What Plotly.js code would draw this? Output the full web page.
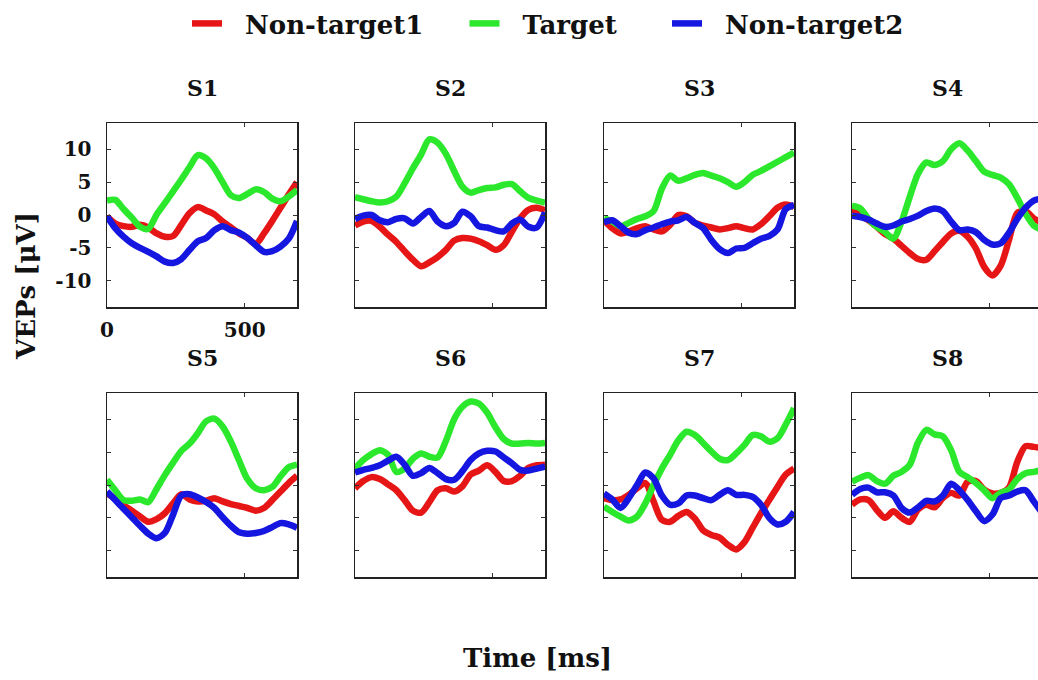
<!DOCTYPE html>
<html><head><meta charset="utf-8">
<script src="https://cdn.plot.ly/plotly-3.0.1.min.js"></script>
<style>html,body{margin:0;padding:0;overflow:hidden;background:#fff;width:1038px;height:680px}#chart{width:1042px;height:680px}</style>
</head><body><div id="chart"></div><script>
const timeMs = [0,30,60,90,120,150,180,210,240,270,300,330,360,390,420,450,480,510,540,570,600,630,660,690];
const panelNames = ['S1','S2','S3','S4','S5','S6','S7','S8'];
const seriesNames = ['Non-target1','Target','Non-target2'];
const xTickVals = [0,500];
const xTickText = ['0','500'];
const yTickVals = [-10,-5,0,5,10];
const yTickText = ['-10','-5','0','5','10'];

const S1_nonTarget1 = [-0.2,-1.3,-1.7,-1.8,-1.5,-1.9,-2.8,-3.3,-3.2,-1.5,0.3,1.2,0.7,0.1,-1.0,-1.9,-2.8,-3.5,-4.4,-2.8,-0.9,1.1,3.1,5.0];
const S1_target     = [2.2,2.3,0.9,-0.4,-1.8,-2.1,0.05,1.8,3.6,5.4,7.3,9.1,8.6,7.1,5.0,3.0,2.6,3.2,3.9,3.5,2.5,2.1,2.8,3.8];
const S1_nonTarget2 = [-0.2,-2.0,-3.3,-4.3,-5.0,-5.6,-6.3,-7.1,-7.3,-6.7,-5.3,-4.0,-3.5,-2.3,-1.7,-2.3,-2.7,-3.5,-4.6,-5.6,-5.5,-4.8,-3.6,-0.9];

const S2_nonTarget1 = [-1.6,-1.0,-0.9,-1.8,-3.0,-4.1,-5.5,-6.8,-7.8,-7.2,-6.4,-5.3,-3.9,-3.5,-3.6,-4.0,-4.6,-5.3,-4.6,-2.5,-0.5,0.8,1.1,0.7];
const S2_target     = [2.7,2.4,2.1,1.9,2.1,2.8,4.8,7.1,9.2,11.5,11.0,9.3,6.7,4.3,3.4,3.8,4.1,4.2,4.6,4.7,3.6,2.6,2.2,1.9];
const S2_nonTarget2 = [-0.6,-0.1,0.0,-0.8,-1.1,-0.6,-0.5,-1.3,-0.3,0.6,-1.0,-1.7,-1.2,0.5,-0.2,-1.7,-1.9,-2.3,-2.5,-1.3,-0.7,-1.8,-1.9,0.4];

const S3_nonTarget1 = [-0.8,-2.0,-2.8,-2.5,-2.0,-1.7,-2.2,-2.5,-1.5,0.0,-0.2,-1.2,-1.6,-1.9,-2.2,-2.0,-1.7,-2.0,-2.2,-1.4,-0.2,1.1,1.6,1.2];
const S3_target     = [-0.5,-1.0,-1.7,-1.2,-0.6,-0.2,0.6,4.0,6.0,5.2,5.6,6.1,6.4,6.0,5.6,5.0,4.3,5.0,6.1,6.7,7.4,8.1,8.8,9.5];
const S3_nonTarget2 = [-1.1,-0.8,-1.7,-2.7,-2.9,-2.3,-1.9,-1.4,-1.0,-0.8,-0.3,-1.2,-2.0,-3.8,-5.2,-5.8,-5.1,-5.0,-4.3,-3.6,-3.2,-2.2,0.9,1.5];

const S4_nonTarget1 = [1.0,0.0,-0.8,-1.8,-2.9,-3.6,-4.7,-5.8,-6.7,-6.8,-5.5,-4.1,-2.8,-2.4,-3.3,-5.1,-7.9,-9.2,-7.7,-3.8,0.3,0.6,-0.5,-1.2];
const S4_target     = [1.4,1.0,-0.6,-1.8,-2.6,-3.6,-1.0,2.8,6.3,8.0,7.6,8.2,10.0,10.9,9.8,8.2,6.6,6.1,5.7,4.7,2.6,0.2,-1.6,-2.3];
const S4_nonTarget2 = [-0.1,-0.3,-0.7,-1.3,-1.8,-1.6,-1.0,-0.6,-0.1,0.6,1.0,0.6,-1.0,-2.3,-2.2,-2.6,-3.8,-4.5,-4.3,-2.7,-0.6,1.1,2.2,2.5];

const S5_nonTarget1 = [-1.3,-2.1,-3.1,-3.9,-4.8,-5.6,-5.2,-4.3,-2.8,-1.4,-2.2,-2.5,-2.4,-2.0,-2.5,-2.9,-3.2,-3.5,-3.9,-3.5,-2.3,-1.0,0.3,1.4];
const S5_target     = [0.8,-0.8,-2.3,-2.4,-2.2,-2.6,-0.6,1.5,3.4,5.2,6.3,7.9,9.7,10.1,8.9,6.6,3.7,0.9,-0.5,-0.8,-0.3,1.3,2.7,3.1];
const S5_nonTarget2 = [-1.0,-2.3,-3.6,-4.9,-6.2,-7.4,-8.1,-7.3,-4.5,-1.6,-1.4,-1.9,-2.6,-3.5,-4.9,-6.2,-7.2,-7.4,-7.3,-7.0,-6.4,-5.8,-6.0,-6.5];

const S6_nonTarget1 = [-0.5,0.6,1.2,0.9,0.1,-0.8,-2.3,-3.9,-4.2,-2.6,-0.8,-0.5,-1.0,-0.2,1.6,2.2,3.0,2.0,0.6,0.6,1.4,2.6,3.0,3.1];
const S6_target     = [2.5,3.8,4.7,5.3,4.6,2.0,2.5,4.0,4.8,4.3,4.2,6.7,10.0,11.9,12.7,12.4,11.0,8.8,7.0,6.3,6.3,6.4,6.3,6.4];
const S6_nonTarget2 = [1.9,2.3,2.6,3.0,3.7,4.3,3.1,1.4,1.8,2.6,1.8,0.9,0.8,2.1,3.8,4.8,5.2,5.1,4.2,3.3,2.3,2.2,2.5,2.8];

const S7_nonTarget1 = [-2.0,-2.3,-2.2,-1.5,-0.5,0.3,-2.5,-5.3,-5.6,-4.7,-4.1,-5.1,-6.9,-7.6,-8.0,-9.1,-9.8,-8.7,-6.5,-4.3,-2.3,-0.3,1.6,2.5];
const S7_target     = [-3.3,-4.1,-4.8,-5.4,-4.8,-2.8,0.0,2.5,4.6,6.8,8.1,7.6,6.4,5.1,4.0,3.8,4.8,6.1,7.6,7.4,6.6,7.1,9.2,11.7];
const S7_nonTarget2 = [-1.3,-2.2,-3.5,-2.0,0.0,1.9,1.0,-1.6,-3.0,-2.8,-1.6,-1.6,-2.0,-2.3,-1.5,-0.8,-1.5,-1.5,-1.8,-3.0,-5.0,-6.0,-5.6,-4.1];

const S8_nonTarget1 = [-3.0,-2.2,-2.3,-3.8,-5.0,-4.0,-5.0,-5.6,-3.7,-3.0,-3.4,-2.0,-1.2,-1.6,0.5,0.6,-0.7,-1.3,-1.2,-0.4,3.5,5.9,5.8,5.6];
const S8_target     = [0.5,1.1,1.5,0.6,0.2,1.4,2.0,3.1,6.5,8.4,7.7,7.4,5.3,2.0,1.2,0.3,-0.8,-2.0,-1.2,-0.7,0.9,1.8,2.0,2.3];
const S8_nonTarget2 = [-1.5,-0.6,-0.4,-1.1,-1.1,-1.6,-3.5,-4.2,-3.4,-2.4,-2.5,-1.6,0.2,-0.8,-2.3,-4.0,-5.5,-4.5,-2.0,-1.6,-1.0,-0.8,-2.5,-4.2];

const panelData = [
  [S1_nonTarget1,S1_target,S1_nonTarget2],
  [S2_nonTarget1,S2_target,S2_nonTarget2],
  [S3_nonTarget1,S3_target,S3_nonTarget2],
  [S4_nonTarget1,S4_target,S4_nonTarget2],
  [S5_nonTarget1,S5_target,S5_nonTarget2],
  [S6_nonTarget1,S6_target,S6_nonTarget2],
  [S7_nonTarget1,S7_target,S7_nonTarget2],
  [S8_nonTarget1,S8_target,S8_nonTarget2]
];

const W = 1042, H = 680;
const colors = ['rgb(230,22,22)','rgb(44,232,44)','rgb(22,22,225)'];
const FONT = '"DejaVu Serif", "Liberation Serif", serif';
const colLeft = [107, 355, 604, 852];
const panelW = 190;
const rowTop = [123, 393];
const panelH = 184;
const NB = '\u00a0';
const legendLabels = [NB.repeat(2) + seriesNames[0] + NB.repeat(4),
                      NB.repeat(2) + seriesNames[1] + NB.repeat(5),
                      NB.repeat(2) + seriesNames[2]];

const traces = [];
const layout = {
  width: W, height: H, autosize: false,
  margin: {l:0, r:0, t:0, b:0},
  paper_bgcolor: '#fff', plot_bgcolor: '#fff',
  font: {family: FONT, color: '#111', size: 20},
  showlegend: true,
  legend: {orientation: 'h', x: 548 / W, xanchor: 'center', y: 1.0, yanchor: 'top',
           font: {family: FONT, size: 26, color: '#111', weight: 'bold'},
           itemwidth: 30, tracegroupgap: 0},
  annotations: [],
};

for (let p = 0; p < 8; p++) {
  const r = Math.floor(p / 4), c = p % 4;
  const sfx = p === 0 ? '' : String(p + 1);
  const x0 = colLeft[c] / W, x1 = (colLeft[c] + panelW) / W;
  const yTop = 1 - rowTop[r] / H, yBot = 1 - (rowTop[r] + panelH) / H;
  const showLbl = p === 0;
  layout['xaxis' + sfx] = {
    domain: [x0, x1], anchor: 'y' + sfx, range: [0, 690],
    tickvals: showLbl ? xTickVals : [500], ticktext: showLbl ? xTickText : ['500'],
    showticklabels: showLbl, ticks: 'inside', ticklen: 4, tickwidth: 1, tickcolor: '#333',
    showline: true, linecolor: '#222', linewidth: 1.5, mirror: 'ticks',
    showgrid: false, zeroline: false, fixedrange: true,
    tickfont: {family: FONT, size: 20, color: '#111', weight: 'bold'}, ticklabelstandoff: 4
  };
  layout['yaxis' + sfx] = {
    domain: [yBot, yTop], anchor: 'x' + sfx, range: [-14, 14],
    tickvals: yTickVals, ticktext: yTickText,
    showticklabels: showLbl, ticks: 'inside', ticklen: 4, tickwidth: 1, tickcolor: '#333',
    showline: true, linecolor: '#222', linewidth: 1.5, mirror: 'ticks',
    showgrid: false, zeroline: false, fixedrange: true,
    tickfont: {family: FONT, size: 20, color: '#111', weight: 'bold'}, ticklabelstandoff: 10
  };
  for (let s = 0; s < 3; s++) {
    traces.push({
      type: 'scatter', mode: 'lines', x: timeMs, y: panelData[p][s],
      xaxis: 'x' + sfx, yaxis: 'y' + sfx,
      name: legendLabels[s], legendgroup: seriesNames[s], showlegend: p === 0,
      line: {color: colors[s], width: 6.5, shape: 'spline', smoothing: 0.8},
      hoverinfo: 'skip'
    });
  }
  layout.annotations.push({
    text: panelNames[p], xref: 'paper', yref: 'paper',
    x: (colLeft[c] + panelW / 2) / W, y: 1 - (rowTop[r] - 35) / H,
    xanchor: 'center', yanchor: 'middle', showarrow: false,
    font: {family: FONT, size: 22, color: '#111', weight: 'bold'}
  });
}
layout.annotations.push({
  text: 'VEPs [μV]', xref: 'paper', yref: 'paper', x: 26 / W, y: 1 - 286 / H,
  xanchor: 'center', yanchor: 'middle', textangle: -90, showarrow: false,
  font: {family: FONT, size: 26, color: '#111', weight: 'bold'}
});
layout.annotations.push({
  text: 'Time [ms]', xref: 'paper', yref: 'paper', x: 537 / W, y: 1 - 658 / H,
  xanchor: 'center', yanchor: 'middle', showarrow: false,
  font: {family: FONT, size: 26, color: '#111', weight: 'bold'}
});

Plotly.newPlot('chart', traces, layout, {staticPlot: true, displayModeBar: false});
</script></body></html>
